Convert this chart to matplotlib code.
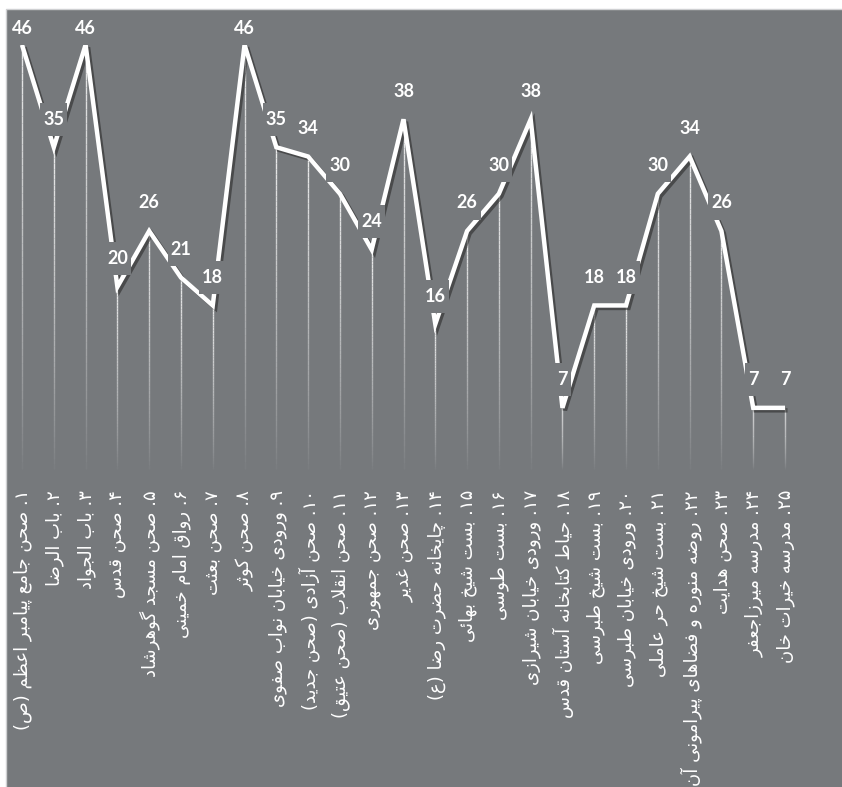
import re
import numpy as np
import matplotlib
matplotlib.use("Agg")
import matplotlib.pyplot as plt
import matplotlib.patheffects as pe
from matplotlib.patches import Rectangle
from matplotlib.collections import LineCollection

# ---------------- data ----------------
labels = [
    "۱. صحن جامع پیامبر اعظم (ص)",
    "۲. باب الرضا",
    "۳. باب الجواد",
    "۴. صحن قدس",
    "۵. صحن مسجد گوهرشاد",
    "۶. رواق امام خمینی",
    "۷. صحن بعثت",
    "۸. صحن کوثر",
    "۹. ورودی خیابان نواب صفوی",
    "۱۰. صحن آزادی (صحن جدید)",
    "۱۱. صحن انقلاب (صحن عتیق)",
    "۱۲. صحن جمهوری",
    "۱۳. صحن غدیر",
    "۱۴. چایخانه حضرت رضا (ع)",
    "۱۵. بست شیخ بهائی",
    "۱۶. بست طوسی",
    "۱۷. ورودی خیابان شیرازی",
    "۱۸. حیاط کتابخانه آستان قدس",
    "۱۹. بست شیخ طبرسی",
    "۲۰. ورودی خیابان طبرسی",
    "۲۱. بست شیخ حر عاملی",
    "۲۲. روضه منوره و فضاهای پیرامونی آن",
    "۲۳. صحن هدایت",
    "۲۴. مدرسه میرزاجعفر",
    "۲۵. مدرسه خیرات خان",
]
values = [46, 35, 46, 20, 26, 21, 18, 46, 35, 34, 30, 24, 38, 16, 26,
          30, 38, 7, 18, 18, 30, 34, 26, 7, 7]

# ---------------- Arabic/Persian shaping for display ----------------
FORMS = {
    'ا': ('\uFE8D', '\uFE8E', None, None),
    'آ': ('\uFE81', '\uFE82', None, None),
    'ب': ('\uFE8F', '\uFE90', '\uFE91', '\uFE92'),
    'پ': ('\uFB56', '\uFB57', '\uFB58', '\uFB59'),
    'ت': ('\uFE95', '\uFE96', '\uFE97', '\uFE98'),
    'ث': ('\uFE99', '\uFE9A', '\uFE9B', '\uFE9C'),
    'ج': ('\uFE9D', '\uFE9E', '\uFE9F', '\uFEA0'),
    'چ': ('\uFB7A', '\uFB7B', '\uFB7C', '\uFB7D'),
    'ح': ('\uFEA1', '\uFEA2', '\uFEA3', '\uFEA4'),
    'خ': ('\uFEA5', '\uFEA6', '\uFEA7', '\uFEA8'),
    'د': ('\uFEA9', '\uFEAA', None, None),
    'ذ': ('\uFEAB', '\uFEAC', None, None),
    'ر': ('\uFEAD', '\uFEAE', None, None),
    'ز': ('\uFEAF', '\uFEB0', None, None),
    'ژ': ('\uFB8A', '\uFB8B', None, None),
    'س': ('\uFEB1', '\uFEB2', '\uFEB3', '\uFEB4'),
    'ش': ('\uFEB5', '\uFEB6', '\uFEB7', '\uFEB8'),
    'ص': ('\uFEB9', '\uFEBA', '\uFEBB', '\uFEBC'),
    'ض': ('\uFEBD', '\uFEBE', '\uFEBF', '\uFEC0'),
    'ط': ('\uFEC1', '\uFEC2', '\uFEC3', '\uFEC4'),
    'ظ': ('\uFEC5', '\uFEC6', '\uFEC7', '\uFEC8'),
    'ع': ('\uFEC9', '\uFECA', '\uFECB', '\uFECC'),
    'غ': ('\uFECD', '\uFECE', '\uFECF', '\uFED0'),
    'ف': ('\uFED1', '\uFED2', '\uFED3', '\uFED4'),
    'ق': ('\uFED5', '\uFED6', '\uFED7', '\uFED8'),
    'ک': ('\uFB8E', '\uFB8F', '\uFB90', '\uFB91'),
    'گ': ('\uFB92', '\uFB93', '\uFB94', '\uFB95'),
    'ل': ('\uFEDD', '\uFEDE', '\uFEDF', '\uFEE0'),
    'م': ('\uFEE1', '\uFEE2', '\uFEE3', '\uFEE4'),
    'ن': ('\uFEE5', '\uFEE6', '\uFEE7', '\uFEE8'),
    'ه': ('\uFEE9', '\uFEEA', '\uFEEB', '\uFEEC'),
    'و': ('\uFEED', '\uFEEE', None, None),
    'ی': ('\uFBFC', '\uFBFD', '\uFBFE', '\uFBFF'),
    'ئ': ('\uFE89', '\uFE8A', '\uFE8B', '\uFE8C'),
}
LAMALEF = {'ا': ('\uFEFB', '\uFEFC'), 'آ': ('\uFEF5', '\uFEF6')}


def _dual(c):
    return c in FORMS and FORMS[c][2] is not None


def shape(s):
    res = []
    n = len(s)
    i = 0
    while i < n:
        c = s[i]
        if c not in FORMS:
            res.append(c)
            i += 1
            continue
        prev = s[i - 1] if i > 0 else None
        cp = prev is not None and _dual(prev)
        if c == 'ل' and i + 1 < n and s[i + 1] in LAMALEF:
            lig = LAMALEF[s[i + 1]]
            res.append(lig[1] if cp else lig[0])
            i += 2
            continue
        nxt = s[i + 1] if i + 1 < n else None
        cn = _dual(c) and nxt in FORMS
        iso, fin, ini, med = FORMS[c]
        if cp and cn:
            res.append(med)
        elif cp:
            res.append(fin)
        elif cn:
            res.append(ini)
        else:
            res.append(iso)
        i += 1
    return ''.join(res)


def visual(s):
    r = shape(s)[::-1]
    r = re.sub(r'[0-9\u06F0-\u06F9]+', lambda m: m.group(0)[::-1], r)
    return r.translate(str.maketrans('()', ')('))


# ---------------- figure ----------------
W, H = 842, 787
BG = '#76797c'
fig = plt.figure(figsize=(W / 100, H / 100), dpi=100)
fig.patch.set_facecolor('white')
fig.add_artist(Rectangle((6 / W, -0.01), 1.0, 1 - 9 / H + 0.01,
                         transform=fig.transFigure, facecolor=BG,
                         edgecolor='#cfd0d2', lw=1.0, zorder=-5))

X0, DX = 22.0, (785.0 - 22.0) / 24      # pixel x of first point, spacing
Y0, DY = 473.0, (408.0 - 45.0) / 39      # pixel y (from top) of value 0, px per unit
ax_l, ax_r, ax_t, ax_b = 6.0, 842.0, 9.0, 473.0
ax = fig.add_axes([ax_l / W, (H - ax_b) / H, (ax_r - ax_l) / W, (ax_b - ax_t) / H])
ax.set_xlim((ax_l - X0) / DX, (ax_r - X0) / DX)
ax.set_ylim(0, (ax_b - ax_t) / DY)
ax.axis('off')
ax.patch.set_alpha(0)

x = np.arange(len(values))

# fading drop lines
segs, cols = [], []
N = 60
for xi, v in zip(x, values):
    ys = np.linspace(v, 0.4, N + 1)
    for k in range(N):
        segs.append([(xi, ys[k]), (xi, ys[k + 1])])
        a = 0.85 * (1 - k / N) ** 0.8
        cols.append((1, 1, 1, a))
ax.add_collection(LineCollection(segs, colors=cols, linewidths=1.0, zorder=2))

# main line with shadow
ax.plot(x, values, color='white', lw=3.2, solid_joinstyle='miter',
        solid_capstyle='butt', zorder=3,
        path_effects=[pe.SimpleLineShadow(offset=(1.8, -1.8), shadow_color='#2b2b2b', alpha=0.6),
                      pe.Normal()])

# value labels with background boxes
fig.canvas.draw()
renderer = fig.canvas.get_renderer()
for xi, v in zip(x, values):
    px, py = ax.transData.transform((xi, v))
    img_y = H - py
    lab_img_y = max(28.0, img_y - 28.0)
    t = fig.text(px / W, (H - lab_img_y) / H, str(v), ha='center', va='center',
                 fontsize=13, fontweight='bold', color='white',
                 family=['Lato', 'DejaVu Sans'], zorder=10)
    bb = t.get_window_extent(renderer)
    fig.add_artist(Rectangle(((bb.x0 - 3) / W, (bb.y0 - 8) / H),
                             (bb.width + 6) / W, (bb.height + 16) / H,
                             transform=fig.transFigure, facecolor=BG,
                             edgecolor='none', zorder=9))

# category labels (rotated, reading top to bottom)
for xi, lab in zip(x, labels):
    px, _ = ax.transData.transform((xi, 0))
    fig.text((px + 1) / W, 1 - 490 / H, visual(lab), rotation=90,
             ha='center', va='top', fontsize=13, color='white',
             family=['DejaVu Sans'], zorder=10)

fig.savefig('out.png', dpi=100, facecolor='white')
